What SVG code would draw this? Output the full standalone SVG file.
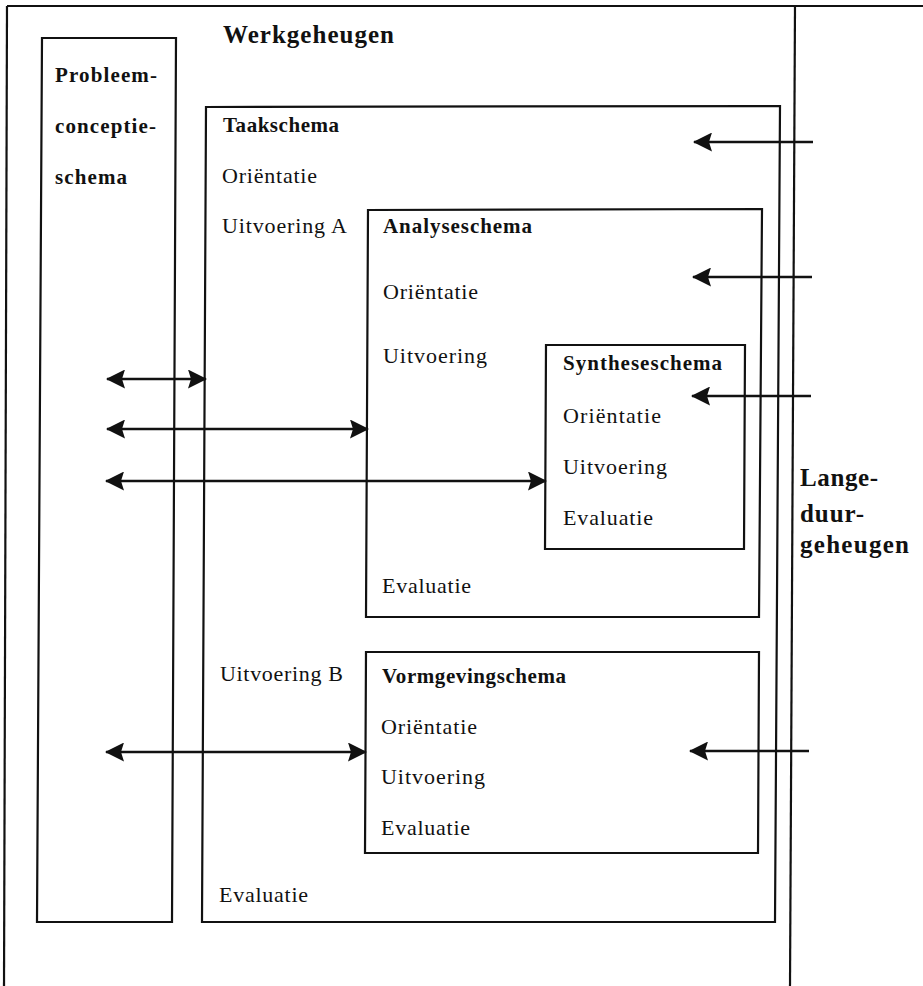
<svg xmlns="http://www.w3.org/2000/svg" width="923" height="986" viewBox="0 0 923 986">
<style>
.box{fill:none;stroke:#111;stroke-width:2.2;stroke-linejoin:miter}
.frame{fill:none;stroke:#111;stroke-width:2.2}
.con{stroke:#111;stroke-width:2.6;fill:none}
text{font-family:"Liberation Serif","Times New Roman",serif;fill:#111}
.t{font-size:22px}
.b{font-size:21px;font-weight:bold}
.big{font-size:25px;font-weight:bold}
.lg{font-size:25px;font-weight:bold}
</style>
<defs>
<marker id="ah" markerUnits="userSpaceOnUse" markerWidth="19" markerHeight="19" viewBox="0 0 19 19" refX="18" refY="9.5" orient="auto-start-reverse">
<path d="M0,0 L19,9.5 L0,19 L3,9.5 z" fill="#111"/>
</marker>
</defs>
<g id="werkgeheugen">
<path class="frame" d="M7,6 L923,6"/>
<path class="frame" d="M7,6 L4,986"/>
<text class="big" x="223" y="43" textLength="171" lengthAdjust="spacing">Werkgeheugen</text>
</g>
<g id="langeduurgeheugen">
<path class="frame" d="M795,6 L790,986"/>
<text class="lg" x="800" y="486" textLength="78" lengthAdjust="spacing">Lange-</text>
<text class="lg" x="800" y="522" textLength="64" lengthAdjust="spacing">duur-</text>
<text class="lg" x="800" y="553" textLength="109" lengthAdjust="spacing">geheugen</text>
</g>
<g id="probleemconceptieschema">
<path class="box" d="M42,38 L176,38 L172,922 L37,922 Z"/>
<text class="b" x="55" y="82" textLength="102" lengthAdjust="spacing">Probleem-</text>
<text class="b" x="55" y="133" textLength="101" lengthAdjust="spacing">conceptie-</text>
<text class="b" x="55" y="184" textLength="72" lengthAdjust="spacing">schema</text>
</g>
<g id="taakschema">
<path class="box" d="M206,107 L780,106 L775,922 L202,922 Z"/>
<text class="b" x="223" y="132" textLength="116" lengthAdjust="spacing">Taakschema</text>
<text class="t" x="222" y="183" textLength="95" lengthAdjust="spacing">Oriëntatie</text>
<text class="t" x="222" y="233" textLength="125" lengthAdjust="spacing">Uitvoering A</text>
<text class="t" x="220" y="681" textLength="123" lengthAdjust="spacing">Uitvoering B</text>
<text class="t" x="219" y="902" textLength="89" lengthAdjust="spacing">Evaluatie</text>
</g>
<g id="analyseschema">
<path class="box" d="M368,210 L762,209 L759,617 L366,617 Z"/>
<text class="b" x="383" y="233" textLength="149" lengthAdjust="spacing">Analyseschema</text>
<text class="t" x="383" y="299" textLength="95" lengthAdjust="spacing">Oriëntatie</text>
<text class="t" x="383" y="363" textLength="104" lengthAdjust="spacing">Uitvoering</text>
<text class="t" x="382" y="593" textLength="89" lengthAdjust="spacing">Evaluatie</text>
</g>
<g id="syntheseschema">
<path class="box" d="M546,345 L745,345 L744,549 L545,549 Z"/>
<text class="b" x="563" y="370" textLength="159" lengthAdjust="spacing">Syntheseschema</text>
<text class="t" x="563" y="423" textLength="98" lengthAdjust="spacing">Oriëntatie</text>
<text class="t" x="563" y="474" textLength="104" lengthAdjust="spacing">Uitvoering</text>
<text class="t" x="563" y="525" textLength="90" lengthAdjust="spacing">Evaluatie</text>
</g>
<g id="vormgevingschema">
<path class="box" d="M366,652 L759,652 L758,853 L365,853 Z"/>
<text class="b" x="382" y="683" textLength="184" lengthAdjust="spacing">Vormgevingschema</text>
<text class="t" x="381" y="734" textLength="96" lengthAdjust="spacing">Oriëntatie</text>
<text class="t" x="381" y="784" textLength="104" lengthAdjust="spacing">Uitvoering</text>
<text class="t" x="381" y="835" textLength="89" lengthAdjust="spacing">Evaluatie</text>
</g>
<g id="connectors">
<line class="con" x1="107" y1="379" x2="206" y2="379" marker-start="url(#ah)" marker-end="url(#ah)"/>
<line class="con" x1="107" y1="429" x2="368" y2="429" marker-start="url(#ah)" marker-end="url(#ah)"/>
<line class="con" x1="106" y1="481" x2="546" y2="481" marker-start="url(#ah)" marker-end="url(#ah)"/>
<line class="con" x1="106" y1="752" x2="366" y2="752" marker-start="url(#ah)" marker-end="url(#ah)"/>
<line class="con" x1="813" y1="142" x2="694" y2="142" marker-end="url(#ah)"/>
<line class="con" x1="812" y1="277" x2="693" y2="277" marker-end="url(#ah)"/>
<line class="con" x1="811" y1="396" x2="692" y2="396" marker-end="url(#ah)"/>
<line class="con" x1="809" y1="751" x2="690" y2="751" marker-end="url(#ah)"/>
</g>
</svg>
